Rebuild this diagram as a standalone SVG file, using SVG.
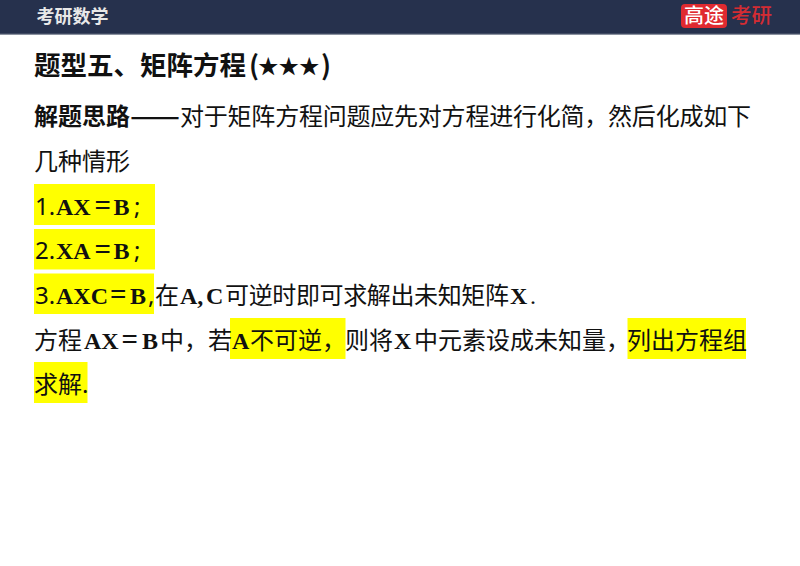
<svg xmlns="http://www.w3.org/2000/svg" width="800" height="566" viewBox="0 0 800 566">
<style>
text{font-family:"Noto Sans CJK SC","Noto Sans",sans-serif;fill:#111;font-size:24px}
.b{font-weight:700}
.m{font-family:"Liberation Serif","Noto Sans CJK SC",serif;font-weight:700;font-size:24px}
.e{font-family:"Liberation Serif",serif;font-weight:700;font-size:29px}
.n{font-family:"Noto Sans","Noto Sans CJK SC",sans-serif}
.p{font-family:"Liberation Serif",serif;font-size:24px}
.h{fill:#ffff00}
.t{font-size:26.5px;font-weight:700}
</style>
<rect width="800" height="566" fill="#fff"/>
<g id="header">
<rect width="800" height="34" fill="#26314d"/>
<rect y="33.5" width="800" height="1.2" fill="#5a6478"/>
<text x="36.5" y="23" class="b" style="font-size:18px;fill:#e8e8e8">考研数学</text>
<rect x="681" y="4" width="46" height="24" rx="4" fill="#e02a30"/>
<text x="684" y="23" style="font-size:20px;fill:#fff;font-weight:500">高途</text>
<text x="731" y="23" style="font-size:20.5px;fill:#d42c33;font-weight:500">考研</text>
</g>
<g id="highlights">
<rect class="h" x="34" y="184" width="121" height="41"/>
<rect class="h" x="34" y="229" width="121" height="40.5"/>
<rect class="h" x="34" y="273.5" width="120" height="40.5"/>
<rect class="h" x="230" y="318" width="115.5" height="41"/>
<rect class="h" x="627.5" y="318" width="118.5" height="41"/>
<rect class="h" x="34" y="362" width="53.5" height="41"/>
</g>
<g id="title">
<text x="34" y="75" class="t">题型五、矩阵方程</text>
<text x="249" y="75" class="t">(</text>
<text x="258" y="74" class="b" style="font-size:20.5px">★★★</text>
<text x="321" y="75" class="t">)</text>
</g>
<g id="body">
<text x="34" y="125" class="b">解题思路</text>
<text x="130" y="125" class="b" textLength="50" lengthAdjust="spacingAndGlyphs">——</text>
<text x="180" y="125" textLength="571">对于矩阵方程问题应先对方程进行化简，然后化成如下</text>
<text x="34" y="170">几种情形</text>
<text x="35" y="215" class="n">1.</text>
<text x="56" y="215" class="m">AX</text>
<text x="94.5" y="215" class="e">=</text>
<text x="113.5" y="215" class="m">B</text>
<text x="134" y="215" class="n">;</text>
<text x="35" y="259" class="n">2.</text>
<text x="56" y="259" class="m">XA</text>
<text x="94.5" y="259" class="e">=</text>
<text x="113.5" y="259" class="m">B</text>
<text x="134" y="259" class="n">;</text>
<text x="35" y="304" class="n">3.</text>
<text x="56" y="304" class="m">AXC</text>
<text x="110" y="304" class="e">=</text>
<text x="130" y="304" class="m">B</text>
<text x="148" y="304" class="n">,</text>
<text x="155" y="304">在</text>
<text x="180" y="304" class="m">A,</text>
<text x="206" y="304" class="m">C</text>
<text x="225" y="304" textLength="284">可逆时即可求解出未知矩阵</text>
<text x="510" y="304" class="m">X</text>
<text x="530" y="304" class="p">.</text>
<text x="34" y="349">方程</text>
<text x="84" y="349" class="m">AX</text>
<text x="121.5" y="349" class="e">=</text>
<text x="142" y="349" class="m">B</text>
<text x="160" y="349">中，若</text>
<text x="232" y="349" class="m">A</text>
<text x="250" y="349">不可逆，</text>
<text x="345" y="349">则将</text>
<text x="394" y="349" class="m">X</text>
<text x="414" y="349">中元素设成未知量，</text>
<text x="627" y="349">列出方程组</text>
<text x="34" y="393">求解</text>
<text x="82" y="393" class="n">.</text>
</g>
</svg>
